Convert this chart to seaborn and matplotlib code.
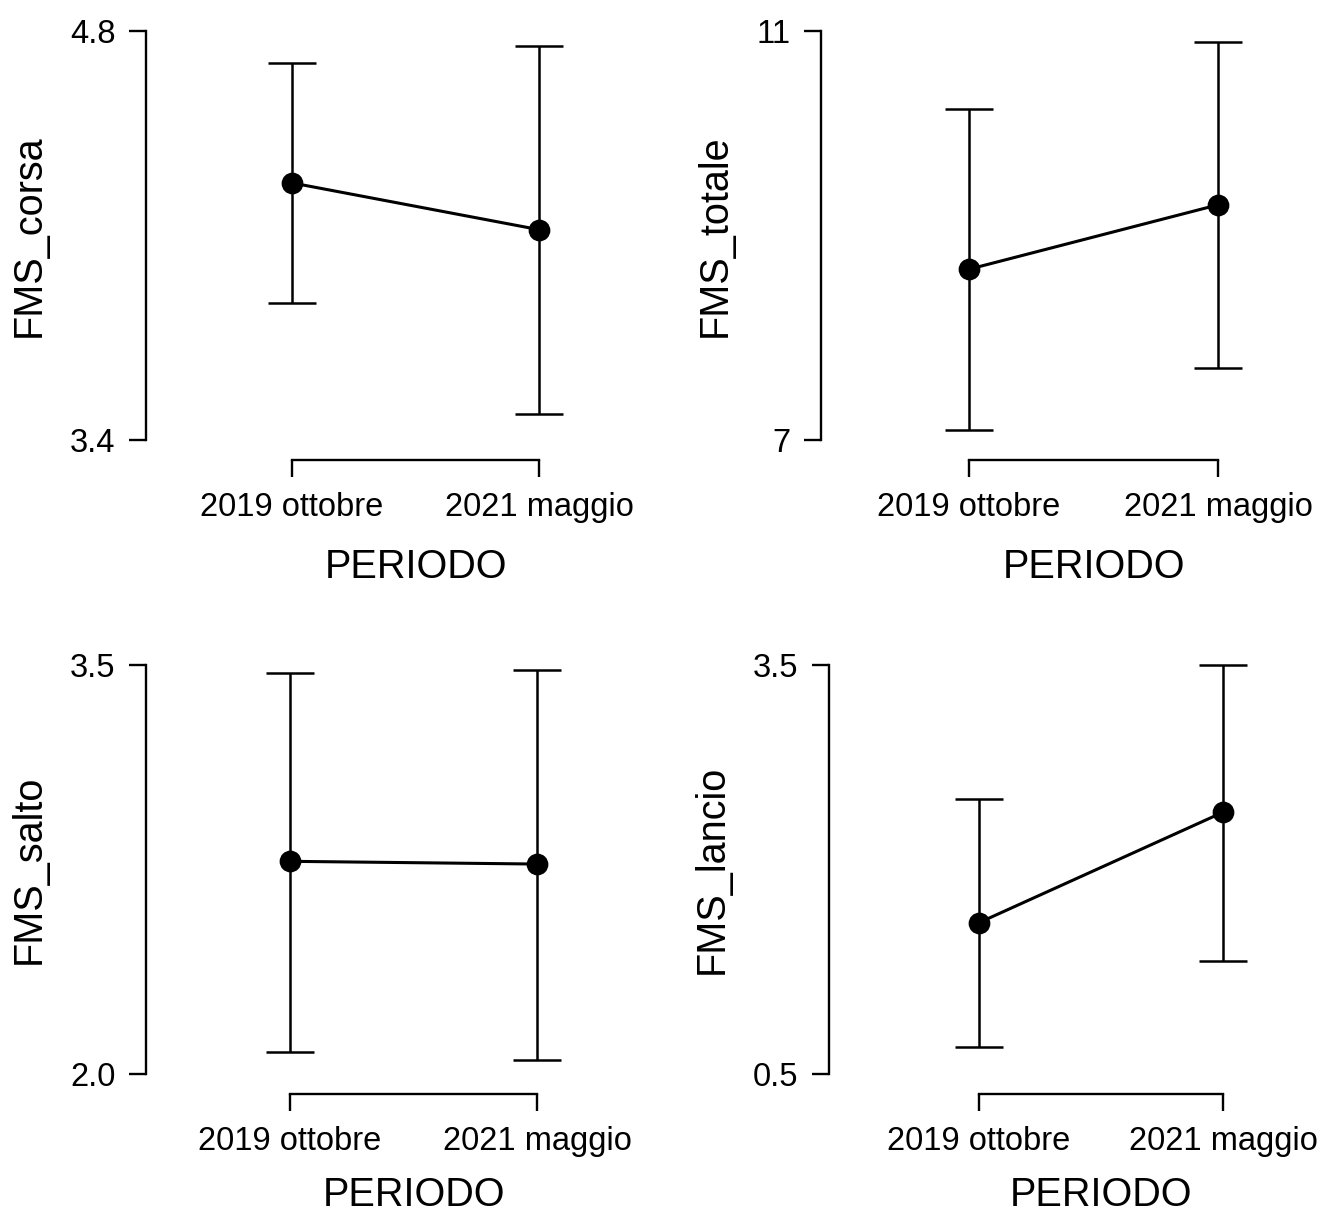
import numpy as np
import pandas as pd
import seaborn as sns
import matplotlib.pyplot as plt

# Data (JASP descriptive plots, mean with interval)
periods = ["2019 ottobre", "2021 maggio"]

corsa_mean = [4.28, 4.12]
corsa_low = [3.87, 3.49]
corsa_high = [4.69, 4.75]

totale_mean = [8.67, 9.30]
totale_low = [7.10, 7.70]
totale_high = [10.24, 10.89]

salto_mean = [2.78, 2.77]
salto_low = [2.08, 2.05]
salto_high = [3.47, 3.48]

lancio_mean = [1.61, 2.42]
lancio_low = [0.70, 1.33]
lancio_high = [2.52, 3.50]

labels = ["FMS_corsa", "FMS_totale", "FMS_salto", "FMS_lancio"]
y_ticks = [[3.4, 4.8], [7, 11], [2.0, 3.5], [0.5, 3.5]]
y_ticklabels = [["3.4", "4.8"], ["7", "11"], ["2.0", "3.5"], ["0.5", "3.5"]]

means = [corsa_mean, totale_mean, salto_mean, lancio_mean]
lows = [corsa_low, totale_low, salto_low, lancio_low]
highs = [corsa_high, totale_high, salto_high, lancio_high]

# panel layout in pixels: y-spine x, top tick y, bottom tick y, first and second category x
layout = [(146, 31, 440, 292, 539),
          (821, 31, 440, 969, 1218),
          (146, 665, 1074, 290, 537),
          (829, 665, 1074, 979, 1223)]

W, H = 1323, 1213
sns.set_style("white")
plt.rcParams["font.family"] = ["Liberation Sans", "DejaVu Sans"]

fig = plt.figure(figsize=(W / 100, H / 100), dpi=100)

for i in range(4):
    spine, top, bot, p1, p2 = layout[i]
    ax_w = p1 + p2 - 2 * spine
    ax = fig.add_axes([spine / W, (H - bot) / H, ax_w / W, (bot - top) / H])

    df = pd.DataFrame({"PERIODO": periods, "value": means[i]})
    m = np.array(means[i])
    err = [m - np.array(lows[i]), np.array(highs[i]) - m]

    ax.errorbar(x=[0, 1], y=m, yerr=err, fmt="none", ecolor="black",
                elinewidth=1.8, capsize=17.5, capthick=1.8, clip_on=False, zorder=2)
    sns.pointplot(data=df, x="PERIODO", y="value", color="black", errorbar=None,
                  markersize=14, linewidth=2.2, ax=ax, zorder=3)
    for c in ax.collections + ax.lines:
        c.set_clip_on(False)

    s = p2 - p1
    ax.set_xlim(-(p1 - spine) / s, 1 + (p1 - spine) / s)
    ax.set_ylim(y_ticks[i][0], y_ticks[i][1])
    ax.set_yticks(y_ticks[i])
    ax.set_yticklabels(y_ticklabels[i])
    ax.set_xticks([0, 1])
    ax.set_xticklabels(periods)

    sns.despine(ax=ax)
    ax.spines["left"].set_bounds(y_ticks[i][0], y_ticks[i][1])
    ax.spines["bottom"].set_bounds(0, 1)
    ax.spines["bottom"].set_position(("outward", 14.4))
    for sp in ["left", "bottom"]:
        ax.spines[sp].set_linewidth(1.7)
        ax.spines[sp].set_color("black")

    ax.tick_params(axis="both", left=True, bottom=True, length=12, width=1.7,
                   color="black", labelsize=23.5, labelcolor="black")
    ax.tick_params(axis="y", pad=10)
    ax.tick_params(axis="x", pad=11)
    pad = 18 if i < 2 else 14
    ax.set_xlabel("PERIODO", fontsize=28.5, labelpad=pad, color="black")
    ax.set_ylabel(labels[i], fontsize=28.5, labelpad=16, color="black")
    ax.patch.set_alpha(0)

fig.savefig("out.png", dpi=100)
